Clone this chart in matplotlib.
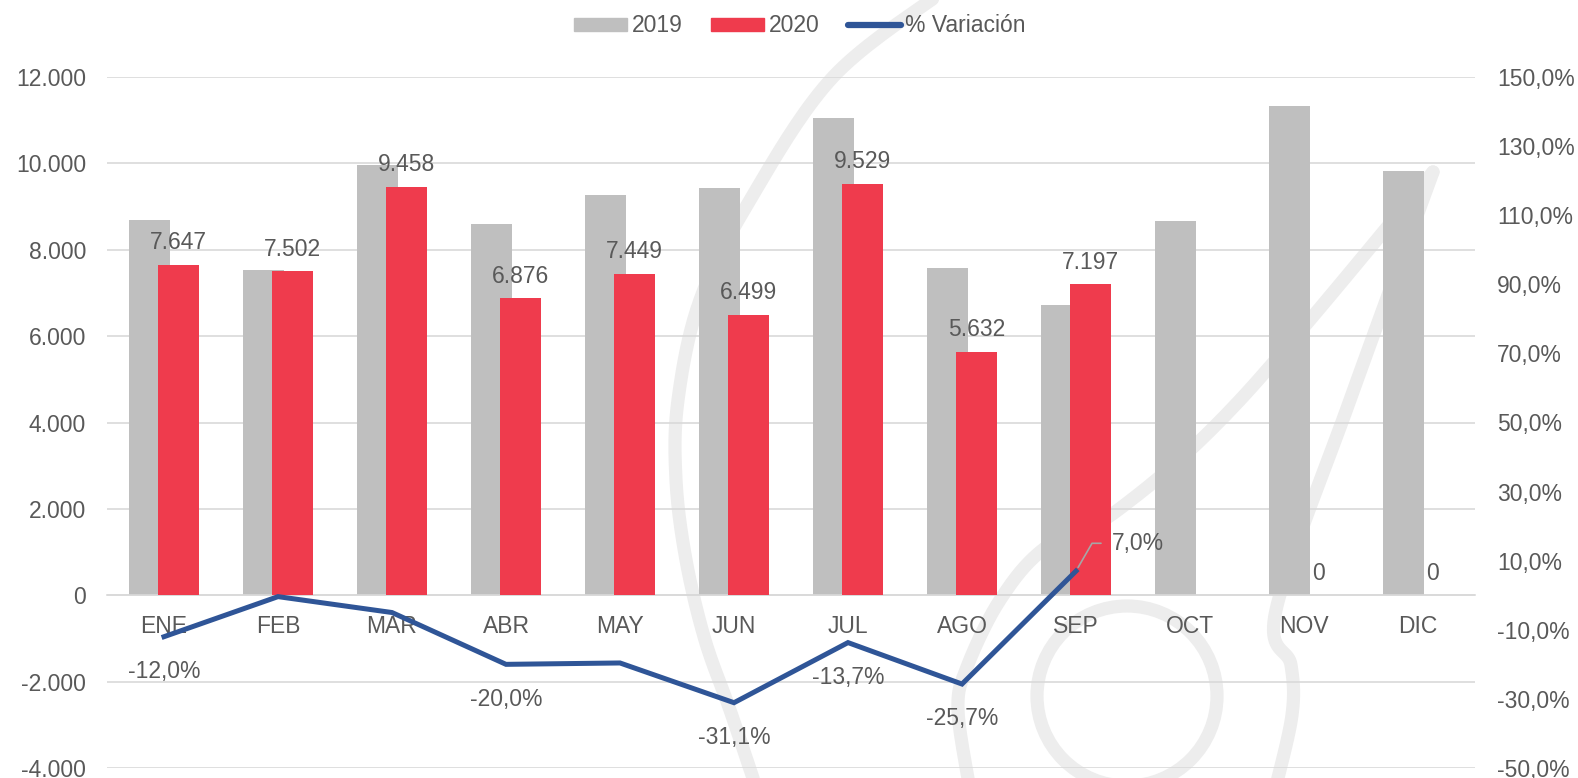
import numpy as np
import matplotlib
matplotlib.use("Agg")
import matplotlib.pyplot as plt
from matplotlib.patches import Circle
from matplotlib.lines import Line2D
from matplotlib.patches import Patch

plt.rcParams['font.family'] = ['Liberation Sans', 'DejaVu Sans']

# datos
meses = ['ENE', 'FEB', 'MAR', 'ABR', 'MAY', 'JUN', 'JUL', 'AGO', 'SEP', 'OCT', 'NOV', 'DIC']
v2019 = [8690, 7530, 9960, 8595, 9265, 9430, 11040, 7580, 6726, 8676, 11330, 9835]
v2020 = [7647, 7502, 9458, 6876, 7449, 6499, 9529, 5632, 7197, np.nan, 0, 0]
variacion = [-12.0, -0.4, -5.0, -20.0, -19.6, -31.1, -13.7, -25.7, 7.0]
var_etiquetas = [0, 3, 5, 6, 7]   # meses con etiqueta debajo de la linea
var_etiqueta_lado = 8             # SEP, etiqueta con linea guia

GRIS = '#BFBFBF'
ROJO = '#EF3B4D'
AZUL = '#2F5597'
TEXTO = '#595959'
REJILLA = '#D9D9D9'
MARCA = '#EDEDED'
FS = 16.5

W, H = 1578, 778
fig = plt.figure(figsize=(W / 100, H / 100), dpi=100)


def suave(pts, n=20):
    # curva catmull-rom por los puntos de la marca de agua
    p = np.array(pts, dtype=float)
    p = np.vstack([p[0], p, p[-1]])
    out = []
    for i in range(1, len(p) - 2):
        p0, p1, p2, p3 = p[i - 1], p[i], p[i + 1], p[i + 2]
        for t in np.linspace(0, 1, n, endpoint=False):
            t2, t3 = t * t, t * t * t
            out.append(0.5 * ((2 * p1) + (-p0 + p2) * t +
                              (2 * p0 - 5 * p1 + 4 * p2 - p3) * t2 +
                              (-p0 + 3 * p1 - 3 * p2 + p3) * t3))
    out.append(p[-2])
    return np.array(out)


# marca de agua de fondo
bg = fig.add_axes([0, 0, 1, 1], zorder=-1)
bg.set_xlim(0, W)
bg.set_ylim(H, 0)
bg.axis('off')
trazos = [
    [(945, -10), (833, 77), (750, 200), (700, 300), (678, 400), (676, 480),
     (686, 560), (705, 640), (730, 710), (757, 790)],
    [(1433, 172), (1240, 400), (1118, 510), (1045, 548), (1000, 600),
     (967, 667), (958, 710), (970, 790)],
    [(1433, 172), (1350, 400), (1276, 610), (1291, 665), (1292, 715), (1275, 790)],
]
for tr in trazos:
    c = suave(tr)
    bg.plot(c[:, 0], c[:, 1], color=MARCA, lw=9.5, solid_capstyle='round')
bg.add_patch(Circle((1127, 696), 90, fill=False, ec=MARCA, lw=9.5))

ax = fig.add_axes([107 / W, 1 - 768 / H, (1475 - 107) / W, (768 - 77) / H])
ax.set_facecolor('none')
x = np.arange(len(meses))
ancho = 0.364
desp = 0.129

ax.bar(x - desp, v2019, ancho, color=GRIS, zorder=2, label='2019')
ax.bar(x + desp, v2020, ancho, color=ROJO, zorder=3, label='2020')

for i, v in enumerate(v2020):
    if np.isnan(v):
        continue
    ax.annotate(f"{v:,.0f}".replace(',', '.'), (x[i] + desp, v),
                xytext=(0, 16), textcoords='offset points',
                ha='center', va='center', fontsize=FS, color=TEXTO, zorder=5)

ax.set_xlim(-0.5, len(meses) - 0.5)
ax.set_ylim(-4000, 12000)
ax.set_yticks(np.arange(-4000, 12001, 2000))
ax.set_yticklabels([f"{v:,.0f}".replace(',', '.') for v in np.arange(-4000, 12001, 2000)])
ax.set_xticks(x)
ax.set_xticklabels(meses)
ax.yaxis.grid(True, color=REJILLA, lw=1.2, zorder=0)
ax.set_axisbelow(True)
for s in ['top', 'left', 'right']:
    ax.spines[s].set_visible(False)
ax.spines['bottom'].set_position(('data', 0))
ax.spines['bottom'].set_color(REJILLA)
ax.spines['bottom'].set_linewidth(1.2)
ax.tick_params(axis='x', length=0, pad=14, labelsize=FS, labelcolor=TEXTO)
ax.tick_params(axis='y', length=0, pad=15, labelsize=FS, labelcolor=TEXTO)

ax2 = ax.twinx()
ax2.plot(x[:len(variacion)], variacion, color=AZUL, lw=3.6, zorder=4,
         solid_joinstyle='miter')
ax2.set_ylim(-50, 150)
ticks2 = np.arange(-50, 151, 20)
ax2.set_yticks(ticks2)
ax2.set_yticklabels([f"{t:.1f}%".replace('.', ',') for t in ticks2])
ax2.tick_params(axis='y', length=0, pad=16, labelsize=FS, labelcolor=TEXTO)
for s in ax2.spines.values():
    s.set_visible(False)

for i in var_etiquetas:
    ax2.annotate(f"{variacion[i]:.1f}%".replace('.', ','), (x[i], variacion[i]),
                 xytext=(0, -25), textcoords='offset points',
                 ha='center', va='center', fontsize=FS, color=TEXTO)
i = var_etiqueta_lado
ax2.annotate(f"{variacion[i]:.1f}%".replace('.', ','), (x[i], variacion[i]),
             xytext=(26, 20), textcoords='offset points',
             ha='left', va='center', fontsize=FS, color=TEXTO,
             arrowprops=dict(arrowstyle='-', color='#A6A6A6', lw=1.2,
                             connectionstyle='angle,angleA=0,angleB=60,rad=0',
                             relpos=(0, 0.5), shrinkA=6, shrinkB=3))

handles = [Patch(color=GRIS, label='2019'), Patch(color=ROJO, label='2020'),
           Line2D([], [], color=AZUL, lw=4.5, solid_capstyle='round', label='% Variación')]
leg = fig.legend(handles=handles, loc='center', bbox_to_anchor=(800 / W, 1 - 26 / H),
                 ncol=3, frameon=False, fontsize=FS, handlelength=2.3,
                 handleheight=0.5, handletextpad=0.2, columnspacing=1.25)
for t in leg.get_texts():
    t.set_color(TEXTO)

fig.savefig('out.png', dpi=100, facecolor='white')
